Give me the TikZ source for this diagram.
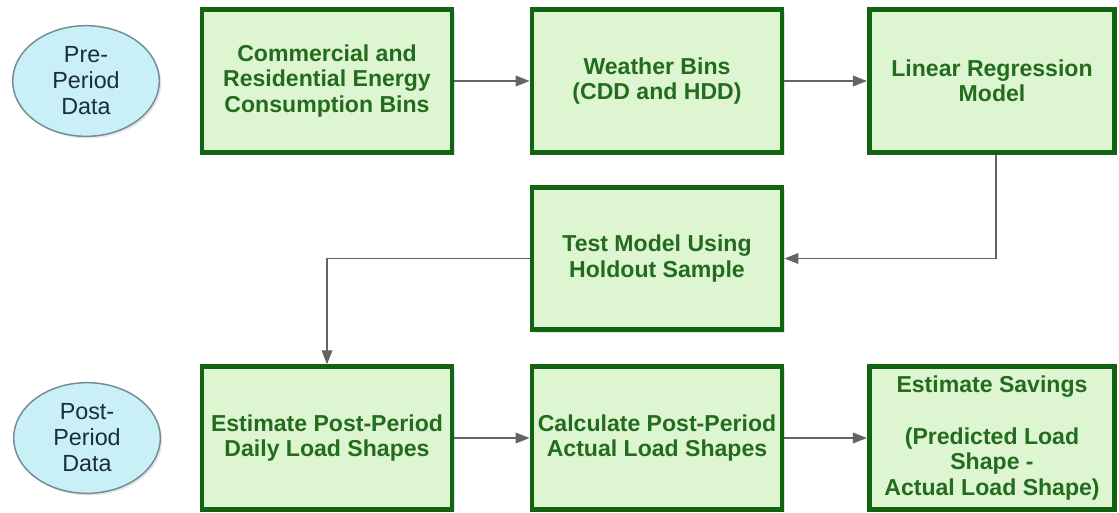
\documentclass[tikz,border=0pt]{standalone}
\usepackage{fontspec}
\setmainfont{Liberation Sans}
\usetikzlibrary{arrows.meta,shapes.geometric,shadows}

\definecolor{boxfill}{RGB}{222,245,210}
\definecolor{boxline}{RGB}{18,100,18}
\definecolor{boxtext}{RGB}{35,108,30}
\definecolor{datafill}{RGB}{200,240,246}
\definecolor{dataline}{RGB}{115,140,150}
\definecolor{datatext}{RGB}{25,45,60}
\definecolor{flow}{RGB}{100,100,100}

\tikzset{
  stepbox/.style={
    rectangle, draw=boxline, line width=3.6pt, fill=boxfill,
    minimum width=187.5pt, minimum height=107pt,
    inner sep=2pt, align=center, text=boxtext,
    font=\bfseries\fontsize{17.3pt}{19pt}\selectfont,
    drop shadow={opacity=0.25, shadow xshift=2pt, shadow yshift=-2pt}
  },
  datanode/.style={
    ellipse, draw=dataline, line width=1.1pt, fill=datafill,
    minimum width=110pt, minimum height=83pt,
    inner sep=0pt, align=center, text=datatext,
    font=\fontsize{17.5pt}{19.5pt}\selectfont,
    drop shadow={opacity=0.2, shadow xshift=1.5pt, shadow yshift=-1.5pt}
  },
  flowarrow/.style={
    draw=flow, line width=1.1pt,
    -{Triangle[length=10.5pt, width=8pt]}
  }
}

\begin{document}
\begin{tikzpicture}[x=0.75pt, y=-0.75pt]
  \useasboundingbox (0,0) rectangle (1119,512);

  % data sources
  \node[datanode] (pre)  at (86,81)  {Pre-\\Period\\Data};
  \node[datanode] (post) at (87,438) {Post-\\Period\\Data};

  % top row
  \node[stepbox] (bins)    at (327,81)  {Commercial and\\Residential Energy\\Consumption Bins};
  \node[stepbox] (weather) at (657,81)  {Weather Bins\\(CDD and HDD)};
  \node[stepbox, minimum width=184pt] (regr) at (992,81) {Linear Regression\\Model};

  % middle
  \node[stepbox] (test) at (657,258.5) {Test Model Using\\Holdout Sample};

  % bottom row
  \node[stepbox] (daily)   at (327,438) {Estimate Post-Period\\Daily Load Shapes};
  \node[stepbox] (actual)  at (657,438) {Calculate Post-Period\\Actual Load Shapes};
  \node[stepbox, minimum width=184pt] (savings) at (992,438)
    {Estimate Savings\\[20pt](Predicted Load\\Shape -\\Actual Load Shape)};

  % connectors
  \draw[flowarrow] (bins) -- (weather);
  \draw[flowarrow] (weather) -- (regr);
  \draw[flowarrow] ([xshift=3pt]regr.south) |- (test.east);
  \draw[flowarrow] (test.west) -| (daily.north);
  \draw[flowarrow] (daily) -- (actual);
  \draw[flowarrow] (actual) -- (savings);
\end{tikzpicture}
\end{document}
